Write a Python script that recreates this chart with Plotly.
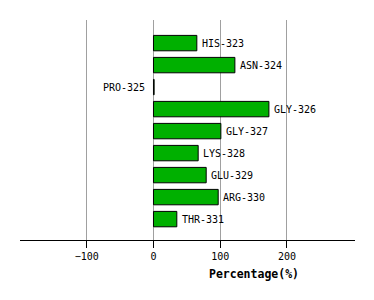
import plotly.graph_objects as go

labels = ["HIS-323", "ASN-324", "PRO-325", "GLY-326", "GLY-327",
          "LYS-328", "GLU-329", "ARG-330", "THR-331"]
values = [65, 122, 1, 173, 101, 67, 79, 97, 35]
tick_vals = [-100, 0, 100, 200]
tick_text = ["\u2212100", "0", "100", "200"]

pos = list(range(len(labels)))
font = "DejaVu Sans Mono"

fig = go.Figure()
fig.add_trace(go.Bar(
    x=values, y=pos, orientation="h", width=0.7,
    marker=dict(color="#00b000", line=dict(color="black", width=1)),
    hoverinfo="skip",
))

for p, v, lab in zip(pos, values, labels):
    if v > 5:
        fig.add_annotation(x=v, y=p, text=lab, showarrow=False,
                           xanchor="left", xshift=3,
                           font=dict(family=font, size=10, color="black"))
    else:
        fig.add_annotation(x=0, y=p, text=lab, showarrow=False,
                           xanchor="right", xshift=-6,
                           font=dict(family=font, size=10, color="black"))

fig.add_annotation(x=151, y=-0.155, xref="x", yref="paper", text="<b>Percentage(%)</b>",
                   showarrow=False, xanchor="center", yanchor="middle",
                   font=dict(family=font, size=11.5, color="black"))

fig.update_layout(
    width=374, height=300,
    margin=dict(l=20, r=19, t=20, b=60),
    plot_bgcolor="white", paper_bgcolor="white",
    showlegend=False,
    xaxis=dict(range=[-200, 302], tickvals=tick_vals, ticktext=tick_text,
               showgrid=True, gridcolor="#a0a0a0", gridwidth=1,
               zeroline=False, showline=True, linecolor="black", linewidth=1,
               ticks="outside", ticklen=7, tickcolor="black",
               tickfont=dict(family=font, size=10, color="black"), fixedrange=True),
    yaxis=dict(range=[8.95, -1.05], showgrid=False, zeroline=False,
               showticklabels=False, showline=False, fixedrange=True),
)

fig.write_html("out.html")
